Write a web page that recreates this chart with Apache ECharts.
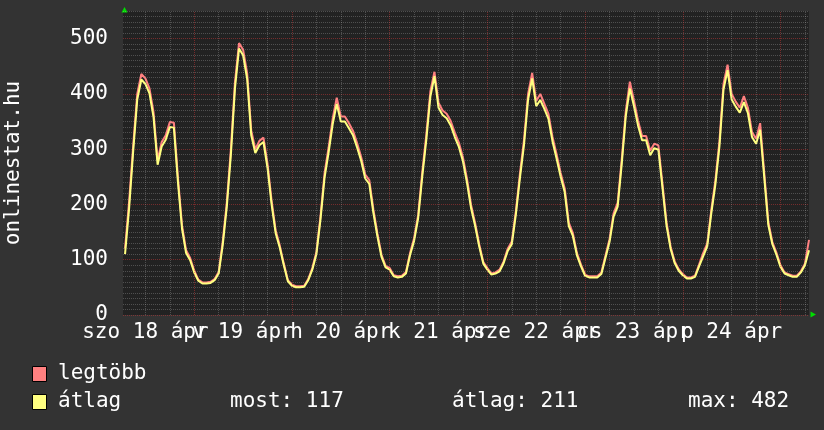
<!DOCTYPE html>
<html>
<head>
<meta charset="utf-8">
<script src="https://cdn.jsdelivr.net/npm/echarts@6/dist/echarts.min.js"></script>
<style>
html,body{margin:0;padding:0;background:#333333;}
#chart{width:824px;height:430px;}
</style>
</head>
<body>
<div id="chart"></div>
<script>
// ---- data (hours counted from 18 Apr 00:00) ----
const startHour = 7;
const avgValues = [
 110,193,296,390,426,418,401,358,272,305,317,340,339,240,156,112,99,
 77,62,57,57,58,63,75,127,196,290,410,482,470,427,325,293,307,313,266,200,148,122,90,61,
 53,50,50,51,63,82,110,172,248,294,345,382,350,350,338,325,303,279,247,237,185,142,105,86,
 82,70,68,69,75,108,134,175,250,317,395,432,375,362,356,343,322,304,278,239,193,161,124,93,
 82,73,75,79,94,116,128,182,248,308,390,428,378,389,373,355,314,283,250,222,161,143,108,88,
 71,68,68,68,74,103,132,178,196,273,360,410,378,343,316,316,289,302,299,231,162,120,94,80,
 72,66,66,69,88,106,124,184,236,305,408,443,390,377,366,385,365,322,310,335,250,163,128,109,
 87,75,72,69,69,77,90,117
];
const maxValues = [
 120,205,306,400,436,428,410,367,280,313,325,349,348,248,162,117,103,
 80,64,59,59,60,65,78,133,204,300,421,492,480,437,334,300,315,321,274,207,153,126,93,63,
 55,52,52,53,65,85,114,178,256,303,355,393,359,359,347,333,311,286,254,244,191,147,109,89,
 85,72,70,71,78,112,139,181,258,326,405,440,384,370,364,351,330,312,285,246,199,166,128,96,
 85,75,77,82,97,120,133,188,256,317,400,438,387,400,382,364,322,291,257,229,167,148,112,91,
 73,70,70,70,77,107,137,184,203,281,369,422,388,352,324,324,297,310,307,238,168,124,97,83,
 74,68,68,71,91,112,129,190,243,314,418,453,400,386,375,396,375,331,319,347,258,169,132,113,
 90,77,74,71,71,79,93,136
];
const dayLabels = ['szo 18 ápr','v 19 ápr','h 20 ápr','k 21 ápr','sze 22 ápr','cs 23 ápr','p 24 ápr'];
const labelHours = [12,36,60,84,108,132,156];
const seriesNames = ['legtöbb','átlag'];
const legendStats = ['most: 117','átlag: 211','max: 482'];
const axisTitle = 'onlinestat.hu';

// ---- styling ----
const FONT = '"DejaVu Sans Mono", monospace';
const FS = 21;
const COL_MAX = '#ff8080';
const COL_AVG = '#ffff80';
const GRID_MINOR = 'rgba(186,186,186,0.3)';
const GRID_MAJOR = 'rgba(230,60,60,0.42)';

const toPairs = arr => arr.map((v, i) => [startHour + i, v]);

const vLines = [];
for (let h = 12; h < 175; h += 6) {
  vLines.push({ xAxis: h, lineStyle: { color: h % 24 === 0 ? GRID_MAJOR : GRID_MINOR, type: [1, 1], width: 1 } });
}

// labels split over two overlapping axes so neighbouring labels may overlap as in the original
const evenHours = labelHours.filter((_, i) => i % 2 === 0);
const oddHours = labelHours.filter((_, i) => i % 2 === 1);
function makeXAxis(values) {
  return {
    type: 'value', min: 6.5, max: 175, position: 'bottom', offset: 0,
    axisLine: { show: false }, axisTick: { show: false }, splitLine: { show: false },
    axisLabel: {
      customValues: values,
      showMinLabel: true, showMaxLabel: true, hideOverlap: false,
      color: '#ffffff', fontFamily: FONT, fontSize: FS, margin: 7,
      formatter: v => dayLabels[labelHours.indexOf(v)] || ''
    }
  };
}

const chart = echarts.init(document.getElementById('chart'), null, { renderer: 'canvas' });
chart.setOption({
  animation: false,
  backgroundColor: '#333333',
  textStyle: { fontFamily: FONT },
  grid: { left: 123, right: 15, top: 11, bottom: 115, show: true, backgroundColor: '#222222', borderWidth: 0 },
  xAxis: [makeXAxis(evenHours), makeXAxis(oddHours)],
  yAxis: {
    type: 'value', min: 0, max: 550, interval: 50,
    axisLine: { show: false }, axisTick: { show: false },
    axisLabel: {
      color: '#ffffff', fontFamily: FONT, fontSize: FS, margin: 15,
      formatter: v => (v % 100 === 0 ? String(v) : '')
    },
    splitLine: { show: true, lineStyle: { color: [GRID_MAJOR, GRID_MINOR], type: [1, 1], width: 1 } },
    minorTick: { show: false, splitNumber: 5 },
    minorSplitLine: { show: true, lineStyle: { color: GRID_MINOR, type: [1, 1], width: 1 } }
  },
  series: [
    {
      type: 'line', data: [], silent: true, z: 1, xAxisIndex: 0,
      markLine: { silent: true, symbol: 'none', label: { show: false }, animation: false,
        lineStyle: { type: [1, 1], width: 1 }, emphasis: { disabled: true }, data: vLines }
    },
    {
      name: seriesNames[0], type: 'line', data: toPairs(maxValues), showSymbol: false, z: 3, xAxisIndex: 0,
      lineStyle: { color: COL_MAX, width: 2 }, itemStyle: { color: COL_MAX }
    },
    {
      name: seriesNames[1], type: 'line', data: toPairs(avgValues), showSymbol: false, z: 4, xAxisIndex: 0,
      lineStyle: { color: COL_AVG, width: 2 }, itemStyle: { color: COL_AVG }
    }
  ],
  graphic: [
    { type: 'text', x: 14, y: 163, rotation: Math.PI / 2,
      style: { text: axisTitle, fill: '#ffffff', font: FS + 'px ' + FONT, textAlign: 'center', textVerticalAlign: 'middle' } },
    { type: 'polygon', shape: { points: [[121.5, 12.5], [124.5, 7], [127.5, 12.5]] }, style: { fill: '#00dd00' } },
    { type: 'polygon', shape: { points: [[810.5, 311.5], [816, 314.5], [810.5, 317.5]] }, style: { fill: '#00dd00' } },
    { type: 'rect', shape: { x: 32.5, y: 366.5, width: 14, height: 15 }, style: { fill: COL_MAX, stroke: '#000', lineWidth: 1 } },
    { type: 'rect', shape: { x: 32.5, y: 394.5, width: 14, height: 15 }, style: { fill: COL_AVG, stroke: '#000', lineWidth: 1 } },
    { type: 'text', x: 58, y: 374, style: { text: seriesNames[0], fill: '#ffffff', font: FS + 'px ' + FONT, textVerticalAlign: 'middle' } },
    { type: 'text', x: 58, y: 402, style: { text: seriesNames[1], fill: '#ffffff', font: FS + 'px ' + FONT, textVerticalAlign: 'middle' } },
    { type: 'text', x: 230, y: 402, style: { text: legendStats[0], fill: '#ffffff', font: FS + 'px ' + FONT, textVerticalAlign: 'middle' } },
    { type: 'text', x: 452, y: 402, style: { text: legendStats[1], fill: '#ffffff', font: FS + 'px ' + FONT, textVerticalAlign: 'middle' } },
    { type: 'text', x: 688, y: 402, style: { text: legendStats[2], fill: '#ffffff', font: FS + 'px ' + FONT, textVerticalAlign: 'middle' } }
  ]
});
</script>
</body>
</html>
